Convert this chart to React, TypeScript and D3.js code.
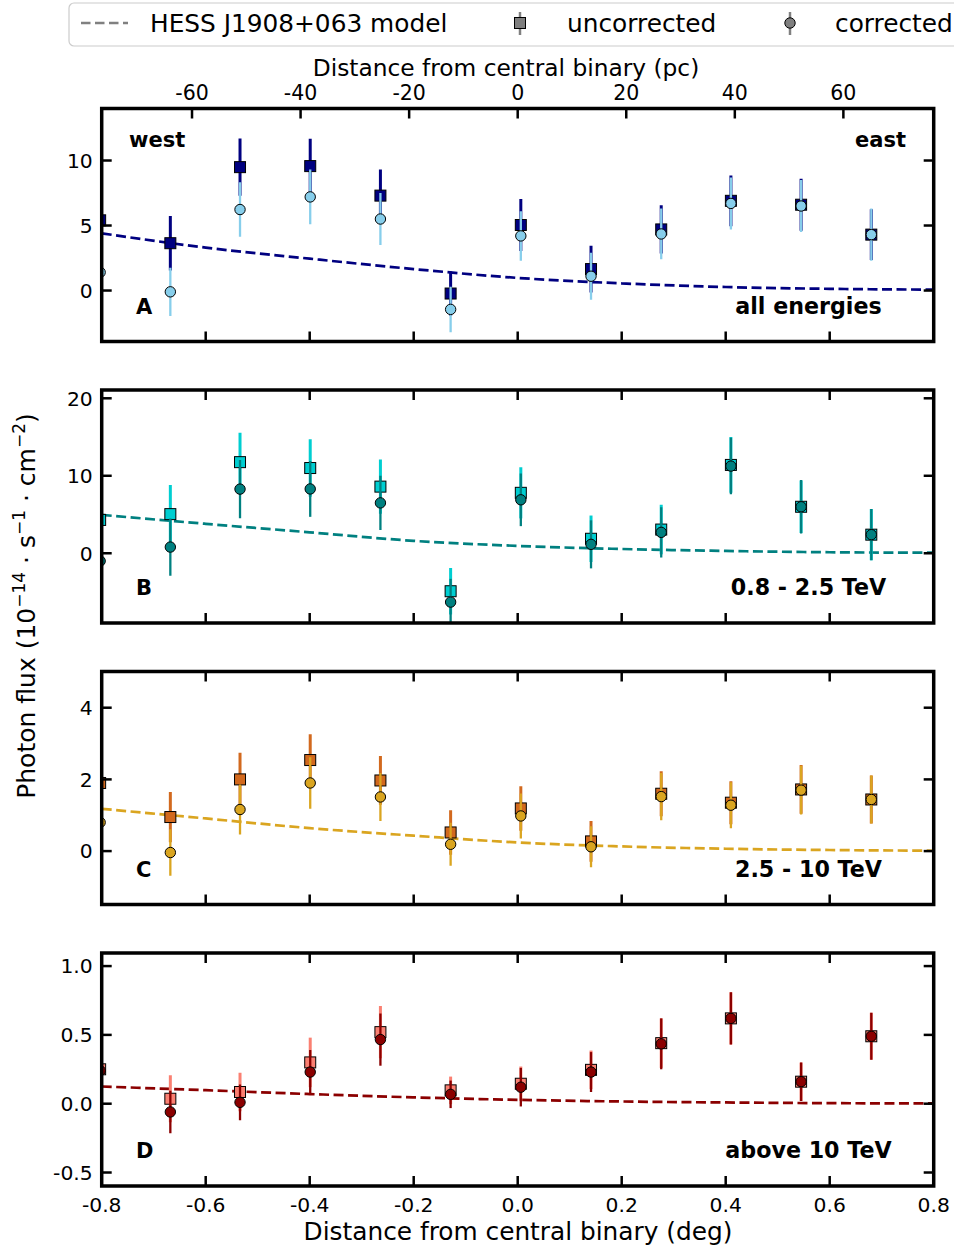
import React from "react";
import * as d3 from "d3";

// ---------- data ----------
const xDeg = [-0.803, -0.668, -0.534, -0.399, -0.264, -0.129, 0.006, 0.141, 0.276, 0.41, 0.545, 0.68];

const uncA = [5.4, 3.64, 9.49, 9.57, 7.3, -0.23, 5.04, 1.65, 4.7, 6.9, 6.6, 4.3];
const uncAErr = [2.0, 2.1, 2.2, 2.1, 2.0, 1.7, 2.0, 1.8, 1.85, 1.95, 2.0, 1.95];
const corA = [1.4, -0.1, 6.23, 7.2, 5.5, -1.45, 4.2, 1.1, 4.35, 6.7, 6.5, 4.3];
const corAErr = [2.0, 1.85, 2.1, 2.1, 2.0, 1.75, 1.9, 1.8, 1.95, 2.0, 2.0, 2.0];

const uncB = [4.3, 5.05, 11.76, 11.0, 8.6, -4.9, 7.8, 1.87, 3.06, 11.4, 6.0, 2.4];
const uncBErr = [3.5, 3.75, 3.8, 3.7, 3.5, 3.0, 3.3, 3.0, 3.2, 3.6, 3.4, 3.3];
const corB = [-1.0, 0.8, 8.28, 8.3, 6.5, -6.3, 6.9, 1.15, 2.7, 11.25, 6.0, 2.4];
const corBErr = [3.5, 3.7, 3.75, 3.6, 3.5, 3.0, 3.4, 3.1, 3.25, 3.65, 3.45, 3.3];

const uncC = [1.9, 0.95, 2.0, 2.54, 1.97, 0.52, 1.19, 0.27, 1.6, 1.35, 1.72, 1.44];
const uncCErr = [0.7, 0.7, 0.74, 0.72, 0.68, 0.62, 0.62, 0.57, 0.63, 0.6, 0.68, 0.67];
const corC = [0.8, -0.04, 1.16, 1.9, 1.51, 0.19, 0.98, 0.12, 1.52, 1.28, 1.7, 1.44];
const corCErr = [0.7, 0.65, 0.7, 0.72, 0.67, 0.6, 0.63, 0.57, 0.66, 0.64, 0.68, 0.67];

const uncD = [0.25, 0.036, 0.085, 0.3, 0.52, 0.097, 0.145, 0.246, 0.44, 0.62, 0.16, 0.49];
const uncDErr = [0.17, 0.17, 0.14, 0.18, 0.19, 0.1, 0.125, 0.14, 0.18, 0.19, 0.14, 0.17];
const corD = [0.24, -0.06, 0.01, 0.23, 0.466, 0.068, 0.12, 0.23, 0.435, 0.62, 0.16, 0.49];
const corDErr = [0.17, 0.155, 0.13, 0.16, 0.19, 0.1, 0.14, 0.145, 0.185, 0.19, 0.14, 0.17];

// model (HESS J1908+063) sampled on a grid
const modelX = [-0.8, -0.6, -0.4, -0.2, 0.0, 0.2, 0.4, 0.6, 0.8];
const modelA = [4.4, 3.3, 2.45, 1.65, 0.97, 0.55, 0.27, 0.13, 0.07];
const modelB = [4.95, 3.8, 2.7, 1.6, 0.95, 0.55, 0.3, 0.13, 0.07];
const modelC = [1.18, 0.91, 0.64, 0.43, 0.24, 0.13, 0.065, 0.03, 0.01];
const modelD = [0.125, 0.098, 0.07, 0.046, 0.028, 0.016, 0.009, 0.004, 0.002];

const xTicksDeg = [-0.8, -0.6, -0.4, -0.2, 0.0, 0.2, 0.4, 0.6, 0.8];
const xTickLabelsDeg = ["-0.8", "-0.6", "-0.4", "-0.2", "0.0", "0.2", "0.4", "0.6", "0.8"];
const xTicksPc = [-60, -40, -20, 0, 20, 40, 60];
const xTickLabelsPc = ["-60", "-40", "-20", "0", "20", "40", "60"];
const pcPerDeg = 95.8;

const yTicksA = [0, 5, 10];
const yTicksB = [0, 10, 20];
const yTicksC = [0, 2, 4];
const yTicksD = [-0.5, 0.0, 0.5, 1.0];
const yTickLabelsD = ["-0.5", "0.0", "0.5", "1.0"];

const panelLetters = ["A", "B", "C", "D"];
const energyLabels = ["all energies", "0.8 - 2.5 TeV", "2.5 - 10 TeV", "above 10 TeV"];
const legendLabels = ["HESS J1908+063 model", "uncorrected", "corrected"];

// ---------- layout ----------
const W = 954;
const H = 1250;
const xL = 101.7;
const xR = 933.7;
const panelTop0 = 108.5;
const panelStep = 281.5;
const panelH = 233;
const FONT = "DejaVu Sans, sans-serif";

const panels = [
  { unc: uncA, uncErr: uncAErr, cor: corA, corErr: corAErr, model: modelA, domain: [-3.92, 14.0], ticks: yTicksA, tickLabels: yTicksA.map(String), uncColor: "#000080", corColor: "#87CEEB", corBar: "#87CEEB", modelColor: "#000080" },
  { unc: uncB, uncErr: uncBErr, cor: corB, corErr: corBErr, model: modelB, domain: [-9.0, 21.07], ticks: yTicksB, tickLabels: yTicksB.map(String), uncColor: "#00CED1", corColor: "#008080", corBar: "#008080", modelColor: "#008080" },
  { unc: uncC, uncErr: uncCErr, cor: corC, corErr: corCErr, model: modelC, domain: [-1.49, 5.01], ticks: yTicksC, tickLabels: yTicksC.map(String), uncColor: "#D2691E", corColor: "#DAA520", corBar: "#DAA520", modelColor: "#DAA520" },
  { unc: uncD, uncErr: uncDErr, cor: corD, corErr: corDErr, model: modelD, domain: [-0.598, 1.095], ticks: yTicksD, tickLabels: yTickLabelsD, uncColor: "#FA8072", corColor: "#8B0000", corBar: "#8B0000", modelColor: "#8B0000" },
];

const x = d3.scaleLinear().domain([-0.8, 0.8]).range([xL, xR]);
const xPc = d3.scaleLinear().domain([-0.8 * pcPerDeg, 0.8 * pcPerDeg]).range([xL, xR]);

function Panel({ p, i }: { p: any; i: number }) {
  const top = panelTop0 + i * panelStep;
  const bottom = top + panelH;
  const y = d3.scaleLinear().domain(p.domain).range([bottom, top]);
  const line = d3
    .line<number>()
    .x((_, k) => x(modelX[k]))
    .y((v) => y(v))
    .curve(d3.curveMonotoneX);
  const clipId = `clip${i}`;
  const tickLen = 10;
  const sq = 11;
  return (
    <g>
      <defs>
        <clipPath id={clipId}>
          <rect x={xL} y={top} width={xR - xL} height={panelH} />
        </clipPath>
      </defs>
      <g clipPath={`url(#${clipId})`}>
        <path d={line(p.model) || ""} fill="none" stroke={p.modelColor} strokeWidth={2.7} strokeDasharray="10,4.5" />
        {/* uncorrected */}
        {xDeg.map((xv, k) => (
          <line key={`ue${k}`} x1={x(xv)} x2={x(xv)} y1={y(p.unc[k] - p.uncErr[k])} y2={y(p.unc[k] + p.uncErr[k])} stroke={p.uncColor} strokeWidth={3} />
        ))}
        {xDeg.map((xv, k) => (
          <rect key={`um${k}`} x={x(xv) - sq / 2} y={y(p.unc[k]) - sq / 2} width={sq} height={sq} fill={p.uncColor} stroke="#000" strokeWidth={1} />
        ))}
        {/* corrected */}
        {xDeg.map((xv, k) => (
          <line key={`ce${k}`} x1={x(xv)} x2={x(xv)} y1={y(p.cor[k] - p.corErr[k])} y2={y(p.cor[k] + p.corErr[k])} stroke={p.corBar} strokeWidth={2.3} />
        ))}
        {xDeg.map((xv, k) => (
          <circle key={`cm${k}`} cx={x(xv)} cy={y(p.cor[k])} r={5.2} fill={p.corColor} stroke="#000" strokeWidth={1} />
        ))}
      </g>
      {/* ticks */}
      {p.ticks.map((t: number, k: number) => (
        <g key={`yt${k}`}>
          <line x1={xL} x2={xL + tickLen} y1={y(t)} y2={y(t)} stroke="#000" strokeWidth={2.5} />
          <line x1={xR} x2={xR - tickLen} y1={y(t)} y2={y(t)} stroke="#000" strokeWidth={2.5} />
          <text x={xL - 9} y={y(t)} dy="0.36em" textAnchor="end" fontSize={20.3} fontFamily={FONT}>
            {p.tickLabels[k]}
          </text>
        </g>
      ))}
      {xTicksDeg.map((t, k) => (
        <line key={`xb${k}`} x1={x(t)} x2={x(t)} y1={bottom} y2={bottom - tickLen} stroke="#000" strokeWidth={2.5} />
      ))}
      {i === 0
        ? xTicksPc.map((t, k) => (
            <line key={`xp${k}`} x1={xPc(t)} x2={xPc(t)} y1={top} y2={top + tickLen} stroke="#000" strokeWidth={2.5} />
          ))
        : xTicksDeg.map((t, k) => (
            <line key={`xt${k}`} x1={x(t)} x2={x(t)} y1={top} y2={top + tickLen} stroke="#000" strokeWidth={2.5} />
          ))}
      <rect x={xL} y={top} width={xR - xL} height={panelH} fill="none" stroke="#000" strokeWidth={3.5} />
      {/* annotations */}
      <text x={136} y={top + 205} fontSize={21} fontWeight="bold" fontFamily={FONT}>
        {panelLetters[i]}
      </text>
      <text x={808.5} y={top + 205} textAnchor="middle" fontSize={22.2} fontWeight="bold" fontFamily={FONT}>
        {energyLabels[i]}
      </text>
      {i === 0 && (
        <>
          <text x={129} y={top + 38.5} fontSize={21} fontWeight="bold" fontFamily={FONT}>west</text>
          <text x={906} y={top + 38.5} textAnchor="end" fontSize={21} fontWeight="bold" fontFamily={FONT}>east</text>
        </>
      )}
    </g>
  );
}

export default function App() {
  const lastBottom = panelTop0 + 3 * panelStep + panelH;
  return (
    <svg width={W} height={H} style={{ display: "block", position: "absolute", left: 0, top: 0, background: "#fff" }} fontFamily={FONT}>
      <rect width={W} height={H} fill="#fff" />
      {/* legend */}
      <g>
        <rect x={69} y={3} width={W} height={43} rx={5} fill="#fff" stroke="#cccccc" strokeWidth={1.2} />
        <line x1={81} x2={128} y1={23} y2={23} stroke="#808080" strokeWidth={2.5} strokeDasharray="9.5,4.5" />
        <text x={150} y={32} fontSize={24.8} fill="#000">{legendLabels[0]}</text>
        <line x1={520} x2={520} y1={12} y2={35} stroke="#808080" strokeWidth={2.5} />
        <rect x={514.5} y={17.5} width={11} height={11} fill="#7f7f7f" stroke="#000" strokeWidth={1} />
        <text x={567} y={32} fontSize={24.8}>{legendLabels[1]}</text>
        <line x1={790} x2={790} y1={12} y2={35} stroke="#808080" strokeWidth={2.5} />
        <circle cx={790} cy={23} r={5.2} fill="#7f7f7f" stroke="#000" strokeWidth={1} />
        <text x={835} y={32} fontSize={24.8}>{legendLabels[2]}</text>
      </g>
      {/* top axis label and tick labels */}
      <text x={506} y={76} textAnchor="middle" fontSize={23.3}>Distance from central binary (pc)</text>
      {xTicksPc.map((t, k) => (
        <text key={`pl${k}`} x={xPc(t)} y={100} textAnchor="middle" fontSize={20.5}>
          {xTickLabelsPc[k]}
        </text>
      ))}
      {panels.map((p, i) => (
        <Panel key={i} p={p} i={i} />
      ))}
      {/* bottom tick labels */}
      {xTicksDeg.map((t, k) => (
        <text key={`bl${k}`} x={x(t)} y={lastBottom + 26} textAnchor="middle" fontSize={20.3}>
          {xTickLabelsDeg[k]}
        </text>
      ))}
      <text x={518} y={1240} textAnchor="middle" fontSize={24.8}>Distance from central binary (deg)</text>
      {/* y label */}
      <text transform="translate(35,606) rotate(-90)" textAnchor="middle" fontSize={25}>
        Photon flux (10
        <tspan dy={-10} fontSize={17}>−14</tspan>
        <tspan dy={10}> · s</tspan>
        <tspan dy={-10} fontSize={17}>−1</tspan>
        <tspan dy={10}> · cm</tspan>
        <tspan dy={-10} fontSize={17}>−2</tspan>
        <tspan dy={10}>)</tspan>
      </text>
    </svg>
  );
}
